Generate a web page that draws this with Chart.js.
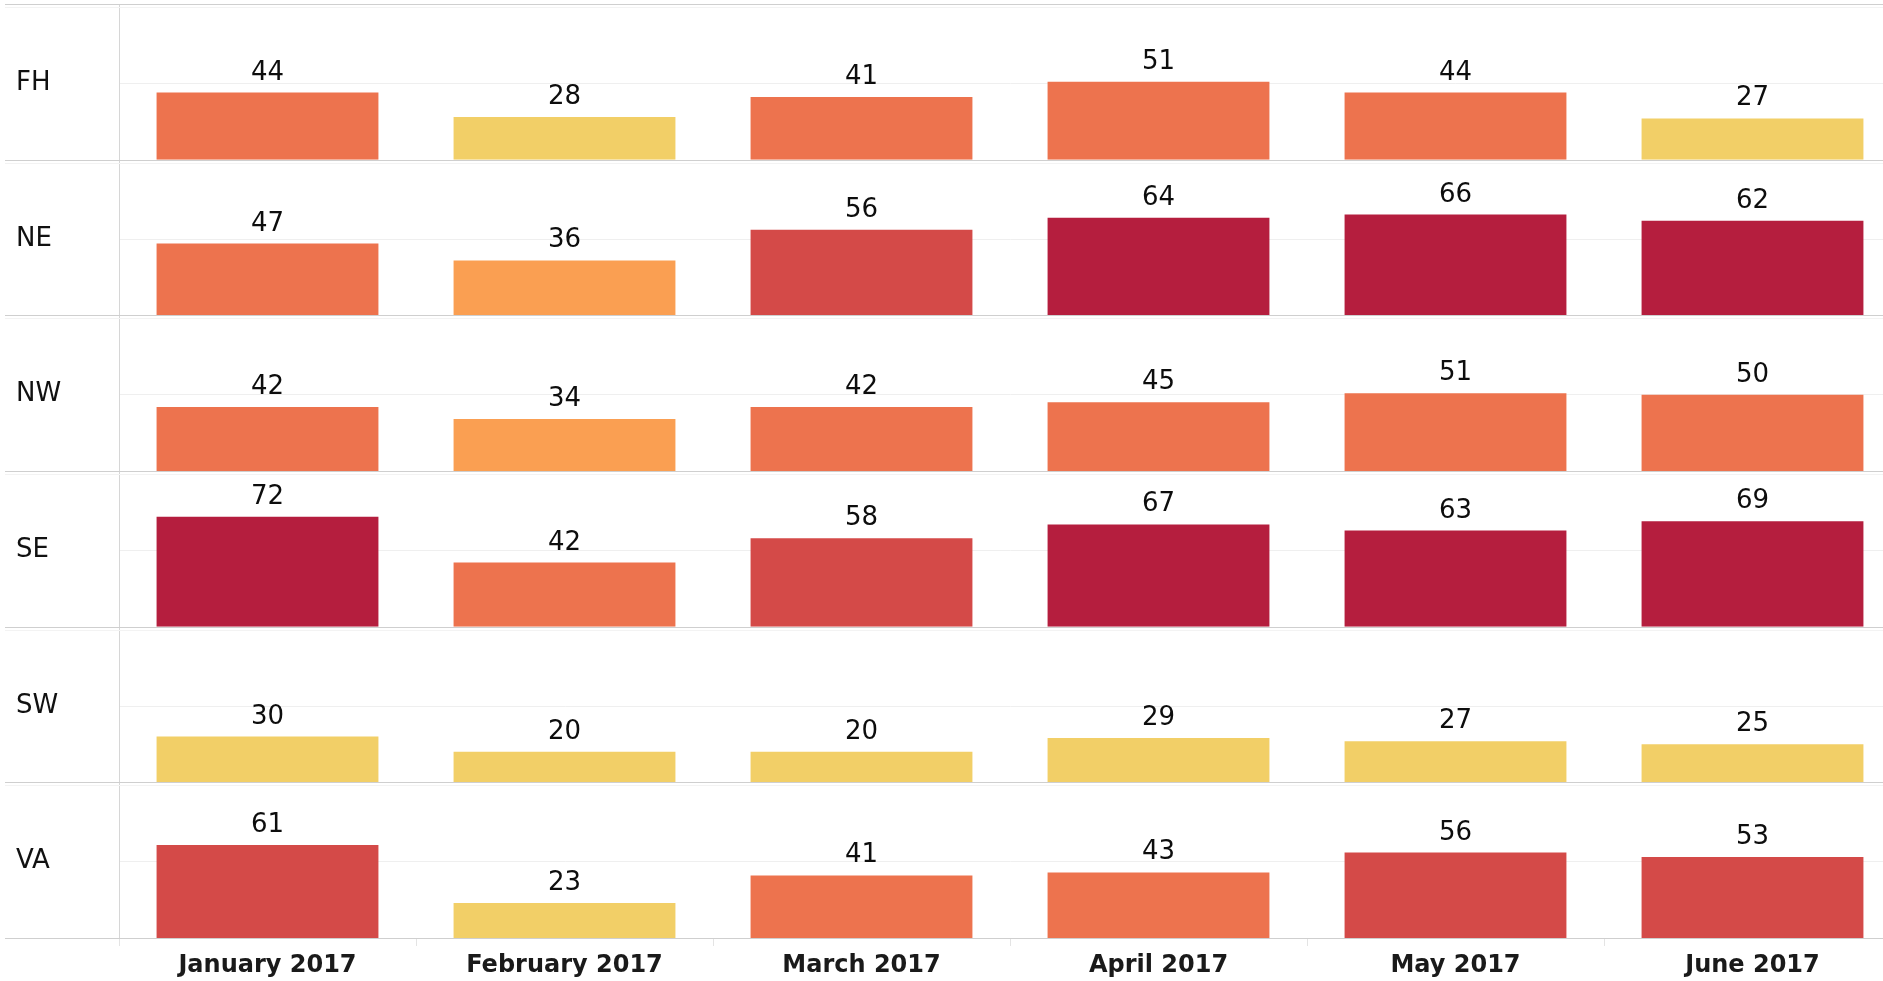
<!DOCTYPE html>
<html>
<head>
<meta charset="utf-8">
<script src="https://cdn.jsdelivr.net/npm/chart.js@4.4.1/dist/chart.umd.min.js"></script>
<style>
  html, body { margin: 0; padding: 0; background: #fff; overflow: hidden; }
  #wrap { width: 1901px; height: 981px; }
</style>
</head>
<body>
<div id="wrap"><canvas id="barChart"></canvas></div>
<script>
// months across, regions down (one panel per region)
var months = ["January 2017", "February 2017", "March 2017", "April 2017", "May 2017", "June 2017"];
var regions = ["FH", "NE", "NW", "SE", "SW", "VA"];

var fhValues = [44, 28, 41, 51, 44, 27];
var neValues = [47, 36, 56, 64, 66, 62];
var nwValues = [42, 34, 42, 45, 51, 50];
var seValues = [72, 42, 58, 67, 63, 69];
var swValues = [30, 20, 20, 29, 27, 25];
var vaValues = [61, 23, 41, 43, 56, 53];

var regionValues = [fhValues, neValues, nwValues, seValues, swValues, vaValues];

var fontFamily = "'DejaVu Sans', 'Open Sans', sans-serif";

// stepped colour by value
function barColor(v) {
  if (v <= 30) return "#F2CF67";
  if (v <= 40) return "#FA9F52";
  if (v <= 52) return "#ED734E";
  if (v <= 61) return "#D44A48";
  return "#B51E3E";
}

var datasets = regions.map(function (r, i) {
  return {
    label: r,
    data: regionValues[i],
    yAxisID: "y" + r,
    backgroundColor: regionValues[i].map(barColor),
    borderWidth: 0
  };
});

var scales = {
  x: {
    type: "category",
    offset: true,
    afterFit: function (axis) {
      axis.height = 43;
      axis.paddingLeft = 0;
      axis.paddingRight = 0;
    },
    grid: { offset: true, drawOnChartArea: false, drawTicks: true, tickLength: 8, color: "#e4e4e4" },
    border: { display: false },
    ticks: {
      font: { family: fontFamily, size: 24, weight: "bold" },
      color: "#1a1a1a",
      padding: 5,
      maxRotation: 0,
      autoSkip: false
    }
  }
};

// added bottom-up so FH ends at the top of the stack
for (var i = regions.length - 1; i >= 0; i--) {
  (function (name) {
    scales["y" + name] = {
      type: "linear",
      position: "left",
      stack: "regions",
      stackWeight: 1,
      min: 0,
      max: 102,
      afterBuildTicks: function (axis) { axis.ticks = [{ value: 50 }]; },
      afterFit: function (axis) {
        axis.width = 103;
        axis.paddingTop = 0;
        axis.paddingBottom = 0;
      },
      ticks: {
        callback: function () { return name; },
        crossAlign: "far",
        font: { family: fontFamily, size: 26 },
        color: "#111"
      },
      grid: { color: "#efefef", drawTicks: false },
      border: { display: true, color: "#d6d6d6" }
    };
  })(regions[i]);
}

var panelLines = {
  id: "panelLines",
  afterDatasetsDraw: function (chart) {
    var ctx = chart.ctx;
    ctx.save();
    function hline(y, color) {
      y = Math.round(y) + 0.5;
      ctx.strokeStyle = color;
      ctx.lineWidth = 1;
      ctx.beginPath();
      ctx.moveTo(5, y);
      ctx.lineTo(chart.width, y);
      ctx.stroke();
    }
    regions.forEach(function (r, i) {
      var s = chart.scales["y" + r];
      hline(s.top + 3, "#f3f3f3");
      if (i === 0) hline(s.top, "#cfcfcf");
      hline(s.bottom, "#cfcfcf");
    });
    ctx.restore();
  }
};

var valueLabels = {
  id: "valueLabels",
  afterDatasetsDraw: function (chart) {
    var ctx = chart.ctx;
    ctx.save();
    ctx.font = "26px " + fontFamily;
    ctx.fillStyle = "#0d0d0d";
    ctx.textAlign = "center";
    ctx.textBaseline = "alphabetic";
    chart.data.datasets.forEach(function (ds, i) {
      chart.getDatasetMeta(i).data.forEach(function (bar, j) {
        ctx.fillText(String(ds.data[j]), bar.x, bar.y - 13);
      });
    });
    ctx.restore();
  }
};

var ctxB = document.getElementById("barChart").getContext("2d");
var myBarChart = new Chart(ctxB, {
  type: "bar",
  data: {
    labels: months,
    datasets: datasets
  },
  options: {
    responsive: true,
    maintainAspectRatio: false,
    animation: false,
    grouped: false,
    categoryPercentage: 1,
    barPercentage: 0.747,
    layout: { padding: { top: 4, left: 16, right: 0, bottom: 0 } },
    plugins: {
      legend: { display: false },
      tooltip: { enabled: false }
    },
    scales: scales
  },
  plugins: [panelLines, valueLabels]
});
</script>
</body>
</html>
